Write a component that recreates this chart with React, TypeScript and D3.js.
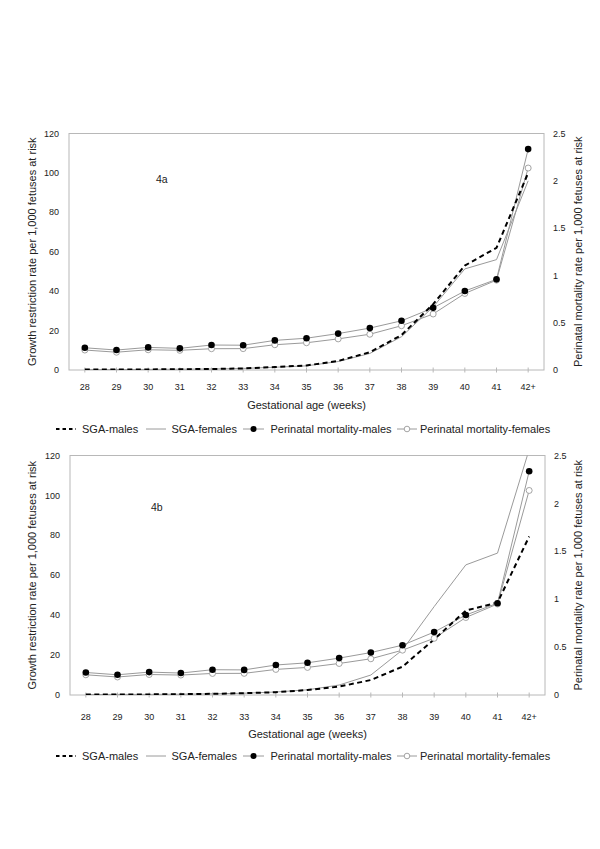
import React from "react";
import * as d3 from "d3";

const categories = ["28", "29", "30", "31", "32", "33", "34", "35", "36", "37", "38", "39", "40", "41", "42+"];

const pmMales = [0.235, 0.211, 0.239, 0.229, 0.264, 0.262, 0.313, 0.336, 0.385, 0.443, 0.52, 0.657, 0.835, 0.958, 2.335];
const pmFemales = [0.211, 0.188, 0.214, 0.208, 0.225, 0.226, 0.267, 0.288, 0.329, 0.378, 0.468, 0.592, 0.809, 0.95, 2.135];

const sgaMalesA = [0.2, 0.2, 0.3, 0.4, 0.5, 0.8, 1.5, 2.3, 4.6, 9, 17.7, 33.4, 53, 62, 100];
const sgaFemalesA = [0.2, 0.2, 0.3, 0.4, 0.5, 0.8, 1.4, 2.1, 4.3, 8.4, 16.9, 32, 51.3, 56, 96];

const sgaMalesB = [0.2, 0.3, 0.3, 0.4, 0.6, 0.9, 1.4, 2.5, 4.2, 7.5, 14.2, 27.9, 42.3, 46.3, 79.4];
const sgaFemalesB = [0.2, 0.3, 0.3, 0.4, 0.6, 0.9, 1.5, 2.6, 5, 10, 22.6, 44.3, 65.2, 71.1, 123];

const leftTicks = [0, 20, 40, 60, 80, 100, 120];
const rightTicks = [0, 0.5, 1, 1.5, 2, 2.5];

const legendLabels = ["SGA-males", "SGA-females", "Perinatal mortality-males", "Perinatal mortality-females"];

const FONT = "'Liberation Sans', Arial, Helvetica, sans-serif";
const TXT = "#222";
const GRID = "#b8b8b8";
const LINE_GRAY = "#9a9a9a";

type Box = { l: number; r: number; t: number; b: number };

function Panel(props: {
  id: string;
  label: string;
  labelX: number;
  labelY: number;
  sgaM: number[];
  sgaF: number[];
  pmM: number[];
  pmF: number[];
  box: Box;
  tickY: number;
  titleY: number;
  legendY: number;
}) {
  const { id, label, labelX, labelY, sgaM, sgaF, pmM, pmF, box, tickY, titleY, legendY } = props;
  const x = d3.scalePoint<string>().domain(categories).range([box.l, box.r]).padding(0.5);
  const yL = d3.scaleLinear().domain([0, 120]).range([box.b, box.t]);
  const yR = d3.scaleLinear().domain([0, 2.5]).range([box.b, box.t]);
  const lineL = d3
    .line<number>()
    .x((_, i) => x(categories[i]) as number)
    .y((d) => yL(d));
  const lineR = d3
    .line<number>()
    .x((_, i) => x(categories[i]) as number)
    .y((d) => yR(d));
  const cy = (box.t + box.b) / 2;

  const legendSamples = [
    { x0: 56, x1: 76, tx: 82 },
    { x0: 146, x1: 166, tx: 171.5 },
    { x0: 243, x1: 264, tx: 270.5 },
    { x0: 397, x1: 417, tx: 420 },
  ];

  return (
    <g>
      <defs>
        <clipPath id={`clip-${id}`}>
          <rect x={box.l} y={box.t} width={box.r - box.l} height={box.b - box.t} />
        </clipPath>
      </defs>
      {/* frame */}
      <rect x={box.l} y={box.t} width={box.r - box.l} height={box.b - box.t} fill="none" stroke={GRID} strokeWidth={1} />
      {/* x ticks */}
      {categories.map((c) => (
        <line key={c} x1={x(c)} x2={x(c)} y1={box.b - 2.5} y2={box.b + 2.5} stroke={GRID} strokeWidth={1} />
      ))}
      {/* left tick labels */}
      {leftTicks.map((t) => (
        <text key={t} x={box.l - 10} y={yL(t)} dy="0.35em" textAnchor="end" fontSize={9} fill={TXT} fontFamily={FONT}>
          {t}
        </text>
      ))}
      {/* right tick labels */}
      {rightTicks.map((t) => (
        <text key={t} x={box.r + 9} y={yR(t)} dy="0.35em" textAnchor="start" fontSize={9} fill={TXT} fontFamily={FONT}>
          {String(t)}
        </text>
      ))}
      {/* x tick labels */}
      {categories.map((c) => (
        <text key={c} x={x(c)} y={tickY} dy="0.35em" textAnchor="middle" fontSize={9} fill={TXT} fontFamily={FONT}>
          {c}
        </text>
      ))}
      {/* axis titles */}
      <text
        transform={`translate(${32},${cy}) rotate(-90)`}
        textAnchor="middle"
        dy="0.35em"
        fontSize={11}
        fill={TXT}
        fontFamily={FONT}
      >
        Growth restriction rate per 1,000 fetuses at risk
      </text>
      <text
        transform={`translate(${578},${cy}) rotate(-90)`}
        textAnchor="middle"
        dy="0.35em"
        fontSize={11}
        fill={TXT}
        fontFamily={FONT}
      >
        Perinatal mortality rate per 1,000 fetuses at risk
      </text>
      <text x={(box.l + box.r) / 2} y={titleY} dy="0.35em" textAnchor="middle" fontSize={11} fill={TXT} fontFamily={FONT}>
        Gestational age (weeks)
      </text>
      <text x={labelX} y={labelY} dy="0.35em" fontSize={10.5} fill={TXT} fontFamily={FONT}>
        {label}
      </text>
      {/* series */}
      <g clipPath={`url(#clip-${id})`}>
        <path d={lineL(sgaF) || ""} fill="none" stroke={LINE_GRAY} strokeWidth={1} />
        <path d={lineR(pmF) || ""} fill="none" stroke={LINE_GRAY} strokeWidth={1} />
        <path d={lineR(pmM) || ""} fill="none" stroke={LINE_GRAY} strokeWidth={1} />
        <path d={lineL(sgaM) || ""} fill="none" stroke="#000" strokeWidth={2} strokeDasharray="5,3.5" />
      </g>
      {pmF.map((v, i) => (
        <circle key={`f${i}`} cx={x(categories[i])} cy={yR(v)} r={3} fill="#fff" stroke={LINE_GRAY} strokeWidth={0.9} />
      ))}
      {pmM.map((v, i) => (
        <circle key={`m${i}`} cx={x(categories[i])} cy={yR(v)} r={3.3} fill="#000" />
      ))}
      {/* legend */}
      <g>
        <line x1={legendSamples[0].x0} x2={legendSamples[0].x1} y1={legendY} y2={legendY} stroke="#000" strokeWidth={2} strokeDasharray="3.5,3" />
        <line x1={legendSamples[1].x0} x2={legendSamples[1].x1} y1={legendY} y2={legendY} stroke={LINE_GRAY} strokeWidth={1} />
        <line x1={legendSamples[2].x0} x2={legendSamples[2].x1} y1={legendY} y2={legendY} stroke={LINE_GRAY} strokeWidth={1} />
        <circle cx={(legendSamples[2].x0 + legendSamples[2].x1) / 2} cy={legendY} r={3} fill="#000" />
        <line x1={legendSamples[3].x0} x2={legendSamples[3].x1} y1={legendY} y2={legendY} stroke={LINE_GRAY} strokeWidth={1} />
        <circle cx={(legendSamples[3].x0 + legendSamples[3].x1) / 2} cy={legendY} r={2.8} fill="#fff" stroke={LINE_GRAY} strokeWidth={0.9} />
        {legendLabels.map((t, i) => (
          <text key={t} x={legendSamples[i].tx} y={legendY} dy="0.35em" fontSize={11} fill={TXT} fontFamily={FONT}>
            {t}
          </text>
        ))}
      </g>
    </g>
  );
}

export default function App() {
  return (
    <svg
      width={600}
      height={849}
      viewBox="0 0 600 849"
      style={{ position: "absolute", left: 0, top: 0, background: "#fff" }}
    >
      <rect x={0} y={0} width={600} height={849} fill="#fff" />
      <Panel
        id="a"
        label="4a"
        labelX={156}
        labelY={179}
        sgaM={sgaMalesA}
        sgaF={sgaFemalesA}
        pmM={pmMales}
        pmF={pmFemales}
        box={{ l: 69, r: 544, t: 133.5, b: 370 }}
        tickY={387}
        titleY={405}
        legendY={429}
      />
      <Panel
        id="b"
        label="4b"
        labelX={151}
        labelY={507}
        sgaM={sgaMalesB}
        sgaF={sgaFemalesB}
        pmM={pmMales}
        pmF={pmFemales}
        box={{ l: 70, r: 545, t: 455.5, b: 695 }}
        tickY={717}
        titleY={734}
        legendY={756}
      />
    </svg>
  );
}
